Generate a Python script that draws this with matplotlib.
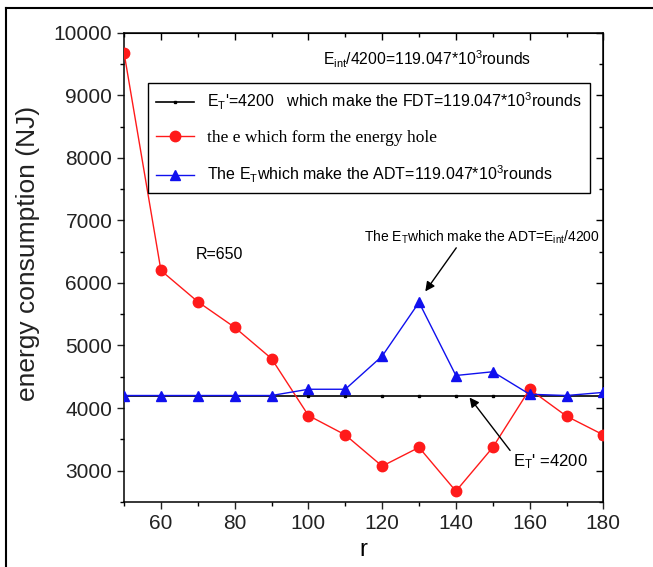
import numpy as np
import matplotlib
matplotlib.use('Agg')
import matplotlib.pyplot as plt
from matplotlib.lines import Line2D

plt.rcParams['font.family'] = ['Liberation Sans', 'DejaVu Sans']
plt.rcParams['mathtext.fontset'] = 'custom'
plt.rcParams['mathtext.rm'] = 'Liberation Sans'
plt.rcParams['mathtext.it'] = 'Liberation Sans:italic'
plt.rcParams['mathtext.bf'] = 'Liberation Sans:bold'

# data
r = [50, 60, 70, 80, 90, 100, 110, 120, 130, 140, 150, 160, 170, 180]
e_fdt = [4200] * len(r)
e_hole = [9680, 6200, 5700, 5290, 4790, 3880, 3570, 3070, 3370, 2670, 3370, 4300, 3870, 3570]
e_adt = [4200, 4200, 4200, 4200, 4200, 4300, 4300, 4830, 5690, 4520, 4580, 4220, 4200, 4250]

label_fdt = r"E$_{\mathrm{T}}$'=4200   which make the FDT=119.047*10$^{3}$rounds"
label_hole = "the e which form the energy hole"
label_adt = r"The E$_{\mathrm{T}}$which make the ADT=119.047*10$^{3}$rounds"

fig = plt.figure(figsize=(6.53, 5.67), dpi=100)
ax = fig.add_axes([0.190, 0.115, 0.734, 0.827])

ax.plot(r, e_fdt, color='black', lw=1.2, marker='s', ms=2, label=label_fdt, zorder=2)
ax.plot(r, e_hole, color='#ff1a1a', lw=1.0, marker='o', ms=7.5, label=label_hole, zorder=3)
ax.plot(r, e_adt, color='#1010ee', lw=1.0, marker='^', ms=7.5, label=label_adt, zorder=4)

ax.set_xlim(50, 180)
ax.set_ylim(2500, 10000)
ax.set_xticks(np.arange(60, 181, 20))
ax.set_xticks(np.arange(50, 181, 10), minor=True)
ax.set_yticks(np.arange(3000, 10001, 1000))
ax.set_yticks(np.arange(2500, 10001, 500), minor=True)
ax.tick_params(which='major', direction='out', length=5, width=1, labelsize=15, colors='#222222')
ax.tick_params(which='minor', direction='out', length=3, width=1)
for s in ax.spines.values():
    s.set_linewidth(1.1)

# top and right: inward ticks, no labels
top = ax.secondary_xaxis('top')
top.set_xticks(np.arange(60, 181, 20))
top.set_xticks(np.arange(50, 181, 10), minor=True)
top.tick_params(which='major', direction='in', length=5, width=1, labeltop=False)
top.tick_params(which='minor', direction='in', length=3, width=1)
right = ax.secondary_yaxis('right')
right.set_yticks(np.arange(3000, 10001, 1000))
right.set_yticks(np.arange(2500, 10001, 500), minor=True)
right.tick_params(which='major', direction='in', length=5, width=1, labelright=False)
right.tick_params(which='minor', direction='in', length=3, width=1)

ax.set_xlabel('r', fontsize=17)
ax.xaxis.set_label_coords(0.50, -0.08)
ax.set_ylabel('energy consumption (NJ)', fontsize=19, color='#222222')
ax.yaxis.set_label_coords(-0.175, 0.53)

leg = ax.legend(loc='upper left', bbox_to_anchor=(0.050, 0.893), fontsize=11.5,
                frameon=True, fancybox=False, edgecolor='black', framealpha=1,
                handlelength=2.4, labelspacing=1.1, borderpad=0.5, handletextpad=0.8,
                borderaxespad=0)
leg.get_frame().set_linewidth(1.0)
leg.get_texts()[1].set_family('Liberation Serif')
leg.get_texts()[1].set_fontsize(12.5)

ax.text(104, 9570, r"E$_{\mathrm{int}}$/4200=119.047*10$^{3}$rounds", fontsize=11.3, va='center')
ax.text(69.5, 6450, "R=650", fontsize=11.5, va='center')
ax.text(115, 6730, r"The E$_{\mathrm{T}}$which make the ADT=E$_{\mathrm{int}}$/4200", fontsize=10, va='center')
ax.text(155.6, 3150, r"E$_{\mathrm{T}}$' =4200", fontsize=12, va='center')

arrow = dict(arrowstyle='-|>', color='black', lw=1.0, mutation_scale=14, shrinkA=0, shrinkB=0)
ax.annotate('', xy=(131.7, 5865), xytext=(140.1, 6562), arrowprops=arrow)
ax.annotate('', xy=(143.7, 4168), xytext=(154.7, 3321), arrowprops=arrow)

# outer frame lines (top and left edges of the picture)
fig.add_artist(Line2D([0.009, 1.0], [0.986, 0.986], color='black', lw=1.5, transform=fig.transFigure))
fig.add_artist(Line2D([0.009, 0.009], [0.0, 0.986], color='black', lw=1.5, transform=fig.transFigure))

fig.savefig('out.png', dpi=100)
